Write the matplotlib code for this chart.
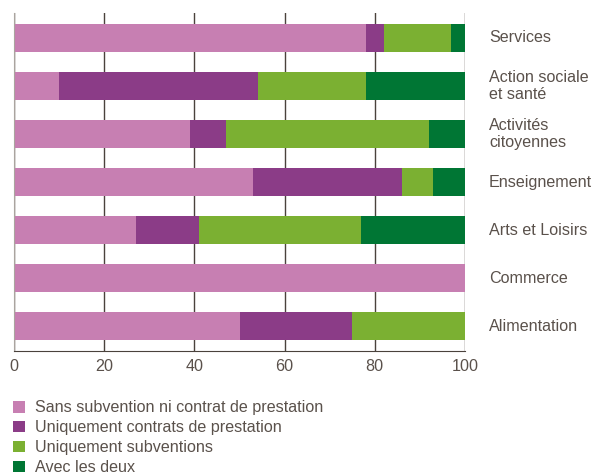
import matplotlib.pyplot as plt
import numpy as np
from matplotlib.patches import Patch

plt.rcParams["font.family"] = ["Liberation Sans", "DejaVu Sans"]

categories = ["Services", "Action sociale\net santé", "Activités\ncitoyennes",
              "Enseignement", "Arts et Loisirs", "Commerce", "Alimentation"]
series_names = ["Sans subvention ni contrat de prestation",
                "Uniquement contrats de prestation",
                "Uniquement subventions",
                "Avec les deux"]
sans = [78, 10, 39, 53, 27, 100, 50]
contrats = [4, 44, 8, 33, 14, 0, 25]
subventions = [15, 24, 45, 7, 36, 0, 25]
deux = [3, 22, 8, 7, 23, 0, 0]
colors = ["#c77fb2", "#8b3c87", "#7bb032", "#007634"]

text_color = "#5a514b"
fs = 11.6

fig = plt.figure(figsize=(5.93, 4.75), dpi=100)
ax = fig.add_axes([14 / 593, 1 - 351 / 475, 451 / 593, 338 / 475])

y = np.arange(len(categories))
left = np.zeros(len(categories))
for vals, col in zip([sans, contrats, subventions, deux], colors):
    ax.barh(y, vals, left=left, height=0.58, color=col, zorder=2)
    left += np.array(vals)

ax.set_xlim(0, 100)
ax.set_ylim(6.52, -0.52)
ax.set_xticks([0, 20, 40, 60, 80, 100])
ax.set_yticks([])
ax.grid(axis="x", color="#4a423c", lw=1.0, zorder=1)
ax.tick_params(axis="x", length=0, pad=6, labelsize=fs, labelcolor=text_color)
for side in ["top", "right"]:
    ax.spines[side].set_visible(False)
ax.spines["left"].set_color("#aaa49f")
ax.spines["bottom"].set_color("#4a423c")

for yi, cat in zip(y, categories):
    ax.text(1.053, yi, cat, transform=ax.get_yaxis_transform(), ha="left",
            va="center", fontsize=fs, color=text_color, linespacing=1.2)

handles = [Patch(facecolor=c, edgecolor="none") for c in colors]
fig.legend(handles, series_names, loc="upper left", bbox_to_anchor=(0.022, 0.157),
           frameon=False, fontsize=fs, labelcolor=text_color, handlelength=0.72,
           handleheight=0.72, handletextpad=0.65, labelspacing=0.3, borderaxespad=0,
           borderpad=0)

fig.savefig("out.png", dpi=100)
